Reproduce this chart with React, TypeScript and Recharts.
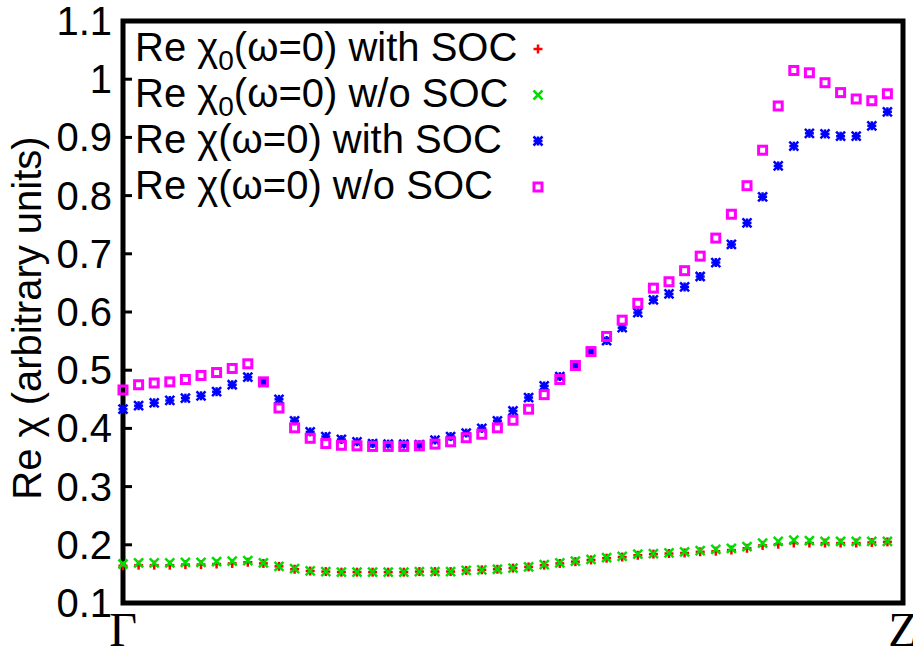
import * as React from "react"
import { ScatterChart, Scatter, XAxis, YAxis, ReferenceArea, Legend } from "recharts"

// k-path: 50 points from Gamma (0) to Z (50)
const pathLabels = [
  { k: 0, label: "Γ" },
  { k: 50, label: "Z" },
];

const yTicks = [0.1, 0.2, 0.3, 0.4, 0.5, 0.6, 0.7, 0.8, 0.9, 1.0, 1.1];

const chi0WithSoc = [
  0.164, 0.165, 0.165, 0.165, 0.166, 0.166, 0.167, 0.168, 0.170, 0.168,
  0.163, 0.158, 0.155, 0.154, 0.153, 0.153, 0.153, 0.153, 0.153, 0.154,
  0.154, 0.154, 0.156, 0.157, 0.158, 0.160, 0.162, 0.165, 0.168, 0.171,
  0.174, 0.177, 0.179, 0.182, 0.184, 0.185, 0.186, 0.188, 0.189, 0.191,
  0.194, 0.199, 0.201, 0.203, 0.203, 0.203, 0.203, 0.203, 0.204, 0.205,
];

const chi0NoSoc = [
  0.167, 0.169, 0.169, 0.169, 0.170, 0.170, 0.171, 0.172, 0.173, 0.169,
  0.163, 0.159, 0.155, 0.154, 0.153, 0.153, 0.153, 0.153, 0.153, 0.154,
  0.154, 0.154, 0.156, 0.157, 0.158, 0.160, 0.162, 0.166, 0.169, 0.172,
  0.175, 0.178, 0.180, 0.184, 0.185, 0.186, 0.188, 0.190, 0.192, 0.194,
  0.197, 0.203, 0.206, 0.208, 0.207, 0.206, 0.206, 0.206, 0.206, 0.206,
];

const chiWithSoc = [
  0.433, 0.439, 0.444, 0.448, 0.452, 0.456, 0.463, 0.475, 0.488, 0.479,
  0.450, 0.413, 0.394, 0.386, 0.381, 0.377, 0.374, 0.373, 0.373, 0.372,
  0.380, 0.386, 0.392, 0.400, 0.413, 0.430, 0.453, 0.473, 0.489, 0.508,
  0.532, 0.551, 0.573, 0.599, 0.621, 0.631, 0.643, 0.661, 0.685, 0.716,
  0.753, 0.798, 0.851, 0.885, 0.907, 0.906, 0.902, 0.902, 0.920, 0.944,
];

const chiNoSoc = [
  0.466, 0.475, 0.478, 0.480, 0.484, 0.491, 0.496, 0.503, 0.511, 0.480,
  0.435, 0.401, 0.383, 0.374, 0.371, 0.370, 0.369, 0.369, 0.369, 0.370,
  0.373, 0.377, 0.384, 0.390, 0.401, 0.414, 0.433, 0.458, 0.484, 0.508,
  0.532, 0.558, 0.586, 0.615, 0.641, 0.652, 0.671, 0.696, 0.727, 0.768,
  0.817, 0.878, 0.954, 1.015, 1.011, 0.994, 0.977, 0.966, 0.963, 0.975,
];

type MarkerKind = "plus" | "cross" | "star" | "square";

interface SeriesDef {
  name: string;
  sub: boolean;
  suffix: string;
  color: string;
  kind: MarkerKind;
  values: number[];
}

const series: SeriesDef[] = [
  { name: "chi0 with SOC", sub: true, suffix: "with SOC", color: "#ff0000", kind: "plus", values: chi0WithSoc },
  { name: "chi0 w/o SOC", sub: true, suffix: "w/o SOC", color: "#00dd00", kind: "cross", values: chi0NoSoc },
  { name: "chi with SOC", sub: false, suffix: "with SOC", color: "#0000ff", kind: "star", values: chiWithSoc },
  { name: "chi w/o SOC", sub: false, suffix: "w/o SOC", color: "#ff00ff", kind: "square", values: chiNoSoc },
];

const SANS = "'Liberation Sans', Arial, Helvetica, sans-serif";
const SERIF = "'Liberation Serif', 'Times New Roman', serif";
const TICK_MARGIN = 11;
const TICK_LEN = 9;

function Marker({ kind, color, cx, cy }: { kind: MarkerKind; color: string; cx: number; cy: number }) {
  const h = 4.5;
  const sw = 2.5;
  if (kind === "square") {
    return <rect x={cx - 4} y={cy - 4} width={8} height={8} fill="none" stroke={color} strokeWidth={3} />;
  }
  const plus = (
    <>
      <line x1={cx - h} x2={cx + h} y1={cy} y2={cy} stroke={color} strokeWidth={sw} />
      <line x1={cx} x2={cx} y1={cy - h} y2={cy + h} stroke={color} strokeWidth={sw} />
    </>
  );
  const cross = (
    <>
      <line x1={cx - h} x2={cx + h} y1={cy - h} y2={cy + h} stroke={color} strokeWidth={sw} />
      <line x1={cx - h} x2={cx + h} y1={cy + h} y2={cy - h} stroke={color} strokeWidth={sw} />
    </>
  );
  return (
    <g>
      {(kind === "plus" || kind === "star") && plus}
      {(kind === "cross" || kind === "star") && cross}
    </g>
  );
}

function LeftTick(props: any) {
  const { x, y, payload } = props;
  const v = payload.value;
  const label = Math.abs(v - 1) < 1e-9 ? "1" : v.toFixed(1);
  return (
    <g>
      <line x1={x + TICK_MARGIN} x2={x + TICK_MARGIN + TICK_LEN} y1={y} y2={y} stroke="#000" strokeWidth={3} />
      <text x={x} y={y + 14} textAnchor="end" fontFamily={SANS} fontSize={40} fill="#000">
        {label}
      </text>
    </g>
  );
}

function RightTick(props: any) {
  const { x, y } = props;
  return <line x1={x - TICK_LEN} x2={x} y1={y} y2={y} stroke="#000" strokeWidth={3} />;
}

function PathTick(props: any) {
  const { x, y, payload } = props;
  const item = pathLabels.find((p) => p.k === payload.value);
  return (
    <text x={x} y={y + 43} textAnchor="middle" fontFamily={SERIF} fontSize={48} fill="#000">
      {item ? item.label : ""}
    </text>
  );
}

function YTitle(props: any) {
  const vb = props.viewBox || { y: 21, height: 582 };
  const cy = vb.y + vb.height / 2 + 6;
  return (
    <text x={41} y={cy} transform={`rotate(-90, 41, ${cy})`} textAnchor="middle" fontFamily={SANS} fontSize={40} fill="#000">
      Re χ (arbitrary units)
    </text>
  );
}

function KeyBox() {
  return (
    <div style={{ fontFamily: SANS, fontSize: 40, color: "#000" }}>
      {series.map((s) => (
        <div key={s.name} style={{ position: "relative", height: 46, width: 420, lineHeight: "46px", whiteSpace: "nowrap" }}>
          <span>
            Re χ
            {s.sub && <sub style={{ fontSize: 28, lineHeight: 0, verticalAlign: -9 }}>0</sub>}
            (ω=0) {s.suffix}
          </span>
          <svg width={20} height={20} style={{ position: "absolute", left: 393, top: 15 }}>
            <Marker kind={s.kind} color={s.color} cx={10} cy={10} />
          </svg>
        </div>
      ))}
    </div>
  );
}

export default function App() {
  return (
    <div style={{ position: "absolute", left: 0, top: 0, width: 913, height: 652, background: "#fff" }}>
      <ScatterChart width={913} height={652} margin={{ top: 21, right: 0, bottom: 0, left: 0 }}>
        <XAxis
          dataKey="k"
          type="number"
          domain={[0, 50]}
          ticks={pathLabels.map((p) => p.k)}
          height={49}
          axisLine={false}
          tickLine={false}
          tickSize={0}
          tickMargin={0}
          tick={<PathTick />}
          interval={0}
        />
        <YAxis
          yAxisId="left"
          dataKey="v"
          type="number"
          domain={[0.1, 1.1]}
          ticks={yTicks}
          width={123}
          axisLine={false}
          tickLine={false}
          tickSize={0}
          tickMargin={TICK_MARGIN}
          tick={<LeftTick />}
          interval={0}
          label={<YTitle />}
        />
        <YAxis
          yAxisId="right"
          orientation="right"
          type="number"
          domain={[0.1, 1.1]}
          ticks={yTicks}
          width={10}
          axisLine={false}
          tickLine={false}
          tickSize={0}
          tickMargin={0}
          tick={<RightTick />}
          interval={0}
        />
        <ReferenceArea yAxisId="left" x1={0} x2={50} y1={0.1} y2={1.1} fill="none" fillOpacity={0} stroke="#000" strokeWidth={5} strokeOpacity={1} />
        <Legend
          layout="vertical"
          align="center"
          verticalAlign="middle"
          content={<KeyBox />}
          wrapperStyle={{ left: 135, top: 24, width: 430 }}
        />
        {series.map((s) => (
          <Scatter
            key={s.name}
            yAxisId="left"
            name={s.name}
            data={s.values.map((v, i) => ({ k: i, v }))}
            fill={s.color}
            isAnimationActive={false}
            shape={(p: any) => <Marker kind={s.kind} color={s.color} cx={p.cx} cy={p.cy} />}
          />
        ))}
      </ScatterChart>
    </div>
  );
}
